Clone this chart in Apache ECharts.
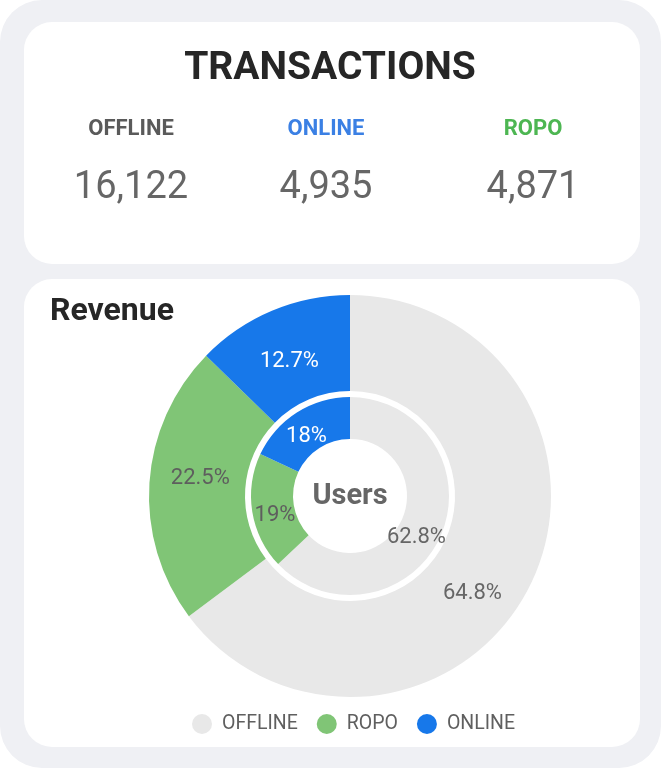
<!DOCTYPE html>
<html>
<head>
<meta charset="utf-8">
<script src="https://cdn.jsdelivr.net/npm/echarts@6/dist/echarts.min.js"></script>
<style>
  html, body { margin: 0; padding: 0; background: #ffffff; }
  #chart { width: 661px; height: 768px; }
</style>
</head>
<body>
<div id="chart"></div>
<script>
// ---- data ----
const categories = ['OFFLINE', 'ROPO', 'ONLINE'];
const revenueShare = [64.8, 22.5, 12.7];   // outer ring (Revenue), %
const userShare = [62.8, 19, 18];          // inner ring (Users), %
const txLabels = ['OFFLINE', 'ONLINE', 'ROPO'];
const txValues = [16122, 4935, 4871];

// ---- styles ----
const sliceColors = { OFFLINE: '#e8e8e8', ROPO: '#80c576', ONLINE: '#1778ea' };
const sliceLabelColors = { OFFLINE: '#666666', ROPO: '#5e5e5e', ONLINE: '#ffffff' };
const txColors = { OFFLINE: '#5a5a5a', ONLINE: '#3b80e4', ROPO: '#4db652' };
const txCenters = [131, 326, 533];
const FONT = 'Roboto, "Noto Sans", sans-serif';
// label nudges (style only)
const outerNudge = [{ dx: -17, dy: 28 }, { dx: 6, dy: -7 }, { dx: 0, dy: 9 }];
const innerNudge = [{ dx: -8, dy: 10 }, { dx: 5, dy: 7 }, { dx: 0, dy: 9 }];

const chart = echarts.init(document.getElementById('chart'), null, { renderer: 'canvas' });

function ringData(values) {
  return categories.map((name, i) => ({
    name: name,
    value: values[i],
    itemStyle: { color: sliceColors[name] },
    label: { color: sliceLabelColors[name] }
  }));
}

const graphics = [
  { type: 'rect', z: 0, shape: { x: 0, y: 0, width: 661, height: 768, r: 42 }, style: { fill: '#eff0f4' } },
  { type: 'rect', z: 0, shape: { x: 24, y: 22, width: 616, height: 242, r: 28 }, style: { fill: '#ffffff' } },
  { type: 'rect', z: 0, shape: { x: 24, y: 279, width: 616, height: 468, r: 28 }, style: { fill: '#ffffff' } },
  { type: 'text', z: 10, x: 330, y: 69, style: { text: 'TRANSACTIONS', fill: '#262626', font: 'bold 39px ' + FONT, textAlign: 'center', textVerticalAlign: 'middle' } },
  { type: 'text', z: 10, x: 50, y: 312, style: { text: 'Revenue', fill: '#262626', font: 'bold 32px ' + FONT, textAlign: 'left', textVerticalAlign: 'middle' } },
  { type: 'text', z: 10, x: 350, y: 497, style: { text: 'Users', fill: '#666666', font: 'bold 29px ' + FONT, textAlign: 'center', textVerticalAlign: 'middle' } }
];
txLabels.forEach((lab, i) => {
  graphics.push({ type: 'text', z: 10, x: txCenters[i], y: 129.5, style: { text: lab, fill: txColors[lab], font: 'bold 22px ' + FONT, textAlign: 'center', textVerticalAlign: 'middle' } });
  graphics.push({ type: 'text', z: 10, x: txCenters[i], y: 188.5, style: { text: txValues[i].toLocaleString('en-US'), fill: '#666666', font: '38px ' + FONT, textAlign: 'center', textVerticalAlign: 'middle' } });
});

const commonLabel = { show: true, position: 'inside', formatter: '{c}%', fontSize: 22, fontFamily: FONT };

chart.setOption({
  animation: false,
  graphic: { elements: graphics },
  legend: {
    data: categories.map(n => n === 'ROPO'
      ? { name: n, textStyle: { padding: [0, 7, 0, 5] } }
      : { name: n }),
    left: 192,
    top: 714,
    padding: 0,
    icon: 'circle',
    itemWidth: 20,
    itemHeight: 20,
    itemGap: 19,
    selectedMode: false,
    textStyle: { fontSize: 19.5, color: '#5f5f5f', fontFamily: FONT, padding: [0, 0, 0, 5] }
  },
  series: [
    {
      type: 'pie',
      name: 'Revenue',
      center: [350, 496],
      radius: [105, 201],
      startAngle: 90,
      clockwise: true,
      avoidLabelOverlap: false,
      silent: true,
      emphasis: { disabled: true },
      label: commonLabel,
      labelLine: { show: false },
      labelLayout: function (p) { return outerNudge[p.dataIndex]; },
      data: ringData(revenueShare)
    },
    {
      type: 'pie',
      name: 'Users',
      center: [350, 496],
      radius: [57, 99],
      startAngle: 90,
      clockwise: true,
      avoidLabelOverlap: false,
      silent: true,
      emphasis: { disabled: true },
      label: commonLabel,
      labelLine: { show: false },
      labelLayout: function (p) { return innerNudge[p.dataIndex]; },
      data: ringData(userShare)
    }
  ]
});
</script>
</body>
</html>
